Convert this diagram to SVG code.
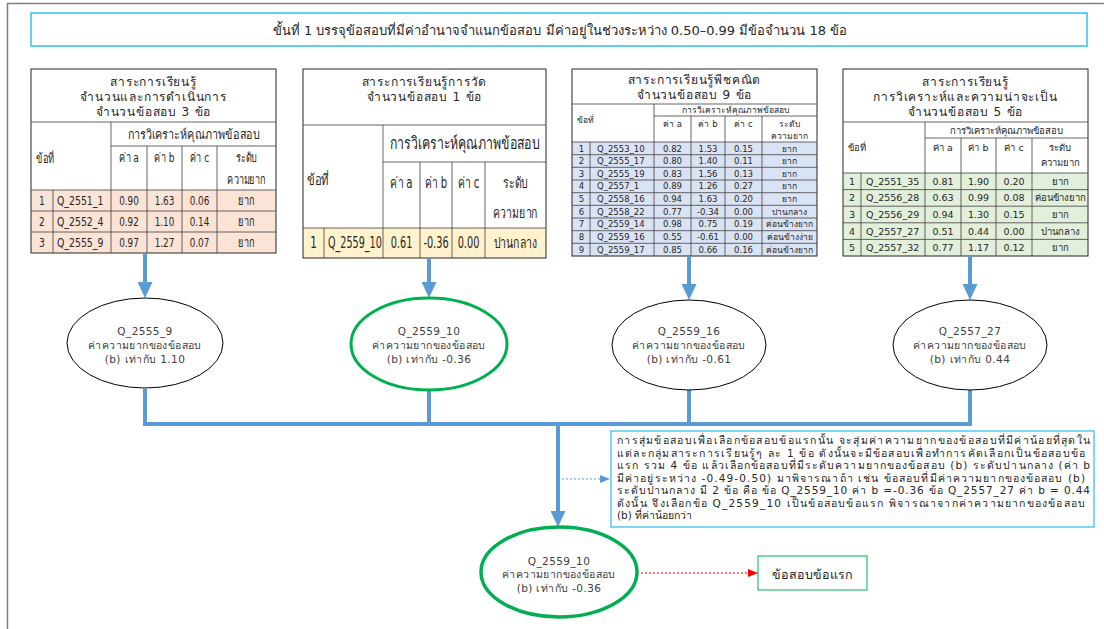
<svg xmlns="http://www.w3.org/2000/svg" width="1104" height="629" viewBox="0 0 1104 629">
<style>
text{font-family:'DejaVu Sans','Noto Sans','Liberation Sans',sans-serif;fill:#262626;dominant-baseline:central}
.frame{stroke:#808080;stroke-width:1.5;fill:none}
.tb{fill:#fff;stroke:#00b0f0;stroke-width:1.2}
.g{stroke:#404040;stroke-width:0.8;fill:none}
.ob{stroke:#262626;stroke-width:1;fill:none}
.c{text-anchor:middle}
.conn{stroke:#5b9bd5;stroke-width:4;fill:none}
.ell{fill:#fff;stroke:#000;stroke-width:1}
.ellg{fill:#fff;stroke:#00b050;stroke-width:3}
.et{font-size:10.5px;fill:#404040;text-anchor:middle;letter-spacing:0.4px}
.tt{font-size:12px;text-anchor:middle;letter-spacing:0.8px}
.s1{font-size:13px;font-family:'Liberation Sans','DejaVu Sans',sans-serif}
.s2{font-size:15px;font-family:'Liberation Sans','DejaVu Sans',sans-serif}
.s3{font-size:8.5px}
.s4{font-size:9.5px}
.note{font-size:10.5px}
</style>
<defs>
<marker id="bh" viewBox="0 0 16 15" refX="8" refY="7.5" markerWidth="16" markerHeight="15" markerUnits="userSpaceOnUse" orient="auto"><path d="M0,0 L16,7.5 L0,15 z" fill="#5b9bd5"/></marker>
<marker id="bs" viewBox="0 0 10 8" refX="10" refY="4" markerWidth="10" markerHeight="8" markerUnits="userSpaceOnUse" orient="auto"><path d="M0,0 L10,4 L0,8 z" fill="#5b9bd5"/></marker>
<marker id="rs" viewBox="0 0 10 8" refX="10" refY="4" markerWidth="10" markerHeight="8" markerUnits="userSpaceOnUse" orient="auto"><path d="M0,0 L10,4 L0,8 z" fill="#ff0000"/></marker>
</defs>
<rect width="1104" height="629" fill="#fff"/>
<path class="frame" d="M7.5,629 V3.5 H1104"/>

<g id="title">
<rect class="tb" x="31" y="13" width="1056" height="33"/>
<text class="c" x="560" y="30" font-size="13">ขั้นที่ 1 บรรจุข้อสอบที่มีค่าอำนาจจำแนกข้อสอบ มีค่าอยู่ในช่วงระหว่าง 0.50–0.99 มีข้อจำนวน 18 ข้อ</text>
</g>

<g id="table1">
<rect x="31" y="190" width="245" height="63" fill="#fbe3d6"/>
<rect class="ob" x="31" y="69" width="245" height="184"/>
<path class="g" d="M31,122H276M111,146H276M31,190H276M31,211H276M31,232H276M111,122V253M147,146V253M182,146V253M217,146V253M53,190V253"/>
<text class="tt" x="153.5" y="82">สาระการเรียนรู้</text>
<text class="tt" x="153.5" y="97">จำนวนและการดำเนินการ</text>
<text class="tt" x="153.5" y="112">จำนวนข้อสอบ 3 ข้อ</text>
<g class="s1">
<text class="c" x="193.5" y="134" textLength="132" lengthAdjust="spacingAndGlyphs">การวิเคราะห์คุณภาพข้อสอบ</text>
<text transform="translate(36,158) scale(0.72,1)">ข้อที่</text>
<text class="c" transform="translate(129,158) scale(0.7,1)">ค่า a</text>
<text class="c" transform="translate(164.5,158) scale(0.7,1)">ค่า b</text>
<text class="c" transform="translate(199.5,158) scale(0.7,1)">ค่า c</text>
<text class="c" transform="translate(246.5,158) scale(0.7,1)">ระดับ</text>
<text class="c" transform="translate(246.5,180) scale(0.7,1)">ความยาก</text>
<text class="c" transform="translate(42,200.5) scale(0.7,1)">1</text><text transform="translate(57,200.5) scale(0.72,1)">Q_2551_1</text><text class="c" transform="translate(129,200.5) scale(0.68,1)">0.90</text><text class="c" transform="translate(164.5,200.5) scale(0.68,1)">1.63</text><text class="c" transform="translate(199.5,200.5) scale(0.68,1)">0.06</text><text class="c" transform="translate(246.5,200.5) scale(0.7,1)">ยาก</text>
<text class="c" transform="translate(42,221.5) scale(0.7,1)">2</text><text transform="translate(57,221.5) scale(0.72,1)">Q_2552_4</text><text class="c" transform="translate(129,221.5) scale(0.68,1)">0.92</text><text class="c" transform="translate(164.5,221.5) scale(0.68,1)">1.10</text><text class="c" transform="translate(199.5,221.5) scale(0.68,1)">0.14</text><text class="c" transform="translate(246.5,221.5) scale(0.7,1)">ยาก</text>
<text class="c" transform="translate(42,242.5) scale(0.7,1)">3</text><text transform="translate(57,242.5) scale(0.72,1)">Q_2555_9</text><text class="c" transform="translate(129,242.5) scale(0.68,1)">0.97</text><text class="c" transform="translate(164.5,242.5) scale(0.68,1)">1.27</text><text class="c" transform="translate(199.5,242.5) scale(0.68,1)">0.07</text><text class="c" transform="translate(246.5,242.5) scale(0.7,1)">ยาก</text>
</g>
</g>

<g id="table2">
<rect x="303" y="228" width="243" height="30" fill="#fff2cc"/>
<rect class="ob" x="303" y="69" width="243" height="189"/>
<path class="g" d="M303,125H546M383,162H546M303,228H546M383,125V258M420,162V258M452,162V258M485,162V258M324,228V258"/>
<text class="tt" x="424.5" y="82">สาระการเรียนรู้การวัด</text>
<text class="tt" x="424.5" y="97">จำนวนข้อสอบ 1 ข้อ</text>
<g class="s2">
<text class="c" x="464.5" y="143" font-size="17" textLength="150" lengthAdjust="spacingAndGlyphs">การวิเคราะห์คุณภาพข้อสอบ</text>
<text transform="translate(307,180) scale(0.75,1)">ข้อที่</text>
<text class="c" transform="translate(401.5,183) scale(0.68,1)">ค่า a</text>
<text class="c" transform="translate(436,183) scale(0.68,1)">ค่า b</text>
<text class="c" transform="translate(468.5,183) scale(0.68,1)">ค่า c</text>
<text class="c" transform="translate(515.5,183) scale(0.7,1)">ระดับ</text>
<text class="c" transform="translate(515.5,213) scale(0.7,1)">ความยาก</text>
<text class="c" transform="translate(313.5,243) scale(0.7,1)">1</text><text transform="translate(328,243) scale(0.64,1)">Q_2559_10</text><text class="c" transform="translate(401.5,243) scale(0.65,1)">0.61</text><text class="c" transform="translate(436,243) scale(0.65,1)">-0.36</text><text class="c" transform="translate(468.5,243) scale(0.65,1)">0.00</text><text class="c" transform="translate(515.5,243) scale(0.7,1)">ปานกลาง</text>
</g>
</g>

<g id="table3">
<rect x="572" y="142" width="245" height="114" fill="#dae3f3"/>
<rect class="ob" x="572" y="69" width="245" height="187"/>
<path class="g" d="M572,104H817M654,116H817M572,142H817M572,154.7H817M572,167.3H817M572,180H817M572,192.7H817M572,205.3H817M572,218H817M572,230.7H817M572,243.3H817M654,104V256M691,116V256M725,116V256M762,116V256M590,142V256"/>
<text class="tt" x="694.5" y="80" font-size="13">สาระการเรียนรู้พีชคณิต</text>
<text class="tt" x="694.5" y="95" font-size="13">จำนวนข้อสอบ 9 ข้อ</text>
<text class="c s3" x="735.5" y="110">การวิเคราะห์คุณภาพข้อสอบ</text>
<text class="s3" x="577" y="120">ข้อที่</text>
<text class="c s3" x="672.5" y="124">ค่า a</text>
<text class="c s3" x="708" y="124">ค่า b</text>
<text class="c s3" x="743.5" y="124">ค่า c</text>
<text class="c s3" x="789.5" y="124">ระดับ</text>
<text class="c s3" x="789.5" y="136">ความยาก</text>
<g class="s3">
<text class="c" x="581.5" y="148.5">1</text><text x="597" y="148.5">Q_2553_10</text><text class="c" x="672.5" y="148.5">0.82</text><text class="c" x="708" y="148.5">1.53</text><text class="c" x="743.5" y="148.5">0.15</text><text class="c" x="789.5" y="148.5">ยาก</text>
<text class="c" x="581.5" y="161">2</text><text x="597" y="161">Q_2555_17</text><text class="c" x="672.5" y="161">0.80</text><text class="c" x="708" y="161">1.40</text><text class="c" x="743.5" y="161">0.11</text><text class="c" x="789.5" y="161">ยาก</text>
<text class="c" x="581.5" y="173.7">3</text><text x="597" y="173.7">Q_2555_19</text><text class="c" x="672.5" y="173.7">0.83</text><text class="c" x="708" y="173.7">1.56</text><text class="c" x="743.5" y="173.7">0.13</text><text class="c" x="789.5" y="173.7">ยาก</text>
<text class="c" x="581.5" y="186.3">4</text><text x="597" y="186.3">Q_2557_1</text><text class="c" x="672.5" y="186.3">0.89</text><text class="c" x="708" y="186.3">1.26</text><text class="c" x="743.5" y="186.3">0.27</text><text class="c" x="789.5" y="186.3">ยาก</text>
<text class="c" x="581.5" y="199">5</text><text x="597" y="199">Q_2558_16</text><text class="c" x="672.5" y="199">0.94</text><text class="c" x="708" y="199">1.63</text><text class="c" x="743.5" y="199">0.20</text><text class="c" x="789.5" y="199">ยาก</text>
<text class="c" x="581.5" y="211.7">6</text><text x="597" y="211.7">Q_2558_22</text><text class="c" x="672.5" y="211.7">0.77</text><text class="c" x="708" y="211.7">-0.34</text><text class="c" x="743.5" y="211.7">0.00</text><text class="c" x="789.5" y="211.7">ปานกลาง</text>
<text class="c" x="581.5" y="224.3">7</text><text x="597" y="224.3">Q_2559_14</text><text class="c" x="672.5" y="224.3">0.98</text><text class="c" x="708" y="224.3">0.75</text><text class="c" x="743.5" y="224.3">0.19</text><text class="c" x="789.5" y="224.3">ค่อนข้างยาก</text>
<text class="c" x="581.5" y="237">8</text><text x="597" y="237">Q_2559_16</text><text class="c" x="672.5" y="237">0.55</text><text class="c" x="708" y="237">-0.61</text><text class="c" x="743.5" y="237">0.00</text><text class="c" x="789.5" y="237">ค่อนข้างง่าย</text>
<text class="c" x="581.5" y="249.7">9</text><text x="597" y="249.7">Q_2559_17</text><text class="c" x="672.5" y="249.7">0.85</text><text class="c" x="708" y="249.7">0.66</text><text class="c" x="743.5" y="249.7">0.16</text><text class="c" x="789.5" y="249.7">ค่อนข้างยาก</text>
</g>
</g>

<g id="table4">
<rect x="843" y="173" width="245" height="83" fill="#e2efda"/>
<rect class="ob" x="843" y="69" width="245" height="187"/>
<path class="g" d="M843,122H1088M925,138H1088M843,173H1088M843,189.6H1088M843,206.2H1088M843,222.8H1088M843,239.4H1088M925,122V256M961,138V256M996,138V256M1032,138V256M861,173V256"/>
<text class="tt" x="965.5" y="82">สาระการเรียนรู้</text>
<text class="tt" x="965.5" y="97">การวิเคราะห์และความน่าจะเป็น</text>
<text class="tt" x="965.5" y="112">จำนวนข้อสอบ 5 ข้อ</text>
<text class="c s4" x="1006.5" y="130">การวิเคราะห์คุณภาพข้อสอบ</text>
<text class="s4" x="848" y="147">ข้อที่</text>
<text class="c s4" x="943" y="147">ค่า a</text>
<text class="c s4" x="978.5" y="147">ค่า b</text>
<text class="c s4" x="1014" y="147">ค่า c</text>
<text class="c s4" x="1060" y="147">ระดับ</text>
<text class="c s4" x="1060" y="162">ความยาก</text>
<g class="s4">
<text class="c" x="852" y="181.3">1</text><text x="866" y="181.3">Q_2551_35</text><text class="c" x="943" y="181.3">0.81</text><text class="c" x="978.5" y="181.3">1.90</text><text class="c" x="1014" y="181.3">0.20</text><text class="c" x="1060" y="181.3">ยาก</text>
<text class="c" x="852" y="197.9">2</text><text x="866" y="197.9">Q_2556_28</text><text class="c" x="943" y="197.9">0.63</text><text class="c" x="978.5" y="197.9">0.99</text><text class="c" x="1014" y="197.9">0.08</text><text class="c" x="1060" y="197.9">ค่อนข้างยาก</text>
<text class="c" x="852" y="214.5">3</text><text x="866" y="214.5">Q_2556_29</text><text class="c" x="943" y="214.5">0.94</text><text class="c" x="978.5" y="214.5">1.30</text><text class="c" x="1014" y="214.5">0.15</text><text class="c" x="1060" y="214.5">ยาก</text>
<text class="c" x="852" y="231.1">4</text><text x="866" y="231.1">Q_2557_27</text><text class="c" x="943" y="231.1">0.51</text><text class="c" x="978.5" y="231.1">0.44</text><text class="c" x="1014" y="231.1">0.00</text><text class="c" x="1060" y="231.1">ปานกลาง</text>
<text class="c" x="852" y="247.7">5</text><text x="866" y="247.7">Q_2557_32</text><text class="c" x="943" y="247.7">0.77</text><text class="c" x="978.5" y="247.7">1.17</text><text class="c" x="1014" y="247.7">0.12</text><text class="c" x="1060" y="247.7">ยาก</text>
</g>
</g>

<g id="connectors">
<path class="conn" d="M145,253V290" marker-end="url(#bh)"/>
<path class="conn" d="M429,258V290" marker-end="url(#bh)"/>
<path class="conn" d="M689,256V292" marker-end="url(#bh)"/>
<path class="conn" d="M970,256V292" marker-end="url(#bh)"/>
<path class="conn" d="M145,389V424H970V390M429,390V424M689,390V424"/>
<path class="conn" d="M558,424V519" marker-end="url(#bh)"/>
<path d="M562,479H610" stroke="#5b9bd5" stroke-width="1" stroke-dasharray="2,2" fill="none" marker-end="url(#bs)"/>
<path d="M637,573H758" stroke="#ff0000" stroke-width="1" stroke-dasharray="2,2" fill="none" marker-end="url(#rs)"/>
</g>

<g id="e1">
<ellipse class="ell" cx="145" cy="343" rx="78" ry="45"/>
<text class="et" x="145" y="331">Q_2555_9</text>
<text class="et" x="145" y="345">ค่าความยากของข้อสอบ</text>
<text class="et" x="145" y="359">(b) เท่ากับ 1.10</text>
</g>
<g id="e2">
<ellipse class="ellg" cx="429" cy="344" rx="78" ry="46"/>
<text class="et" x="429" y="331">Q_2559_10</text>
<text class="et" x="429" y="345">ค่าความยากของข้อสอบ</text>
<text class="et" x="429" y="359">(b) เท่ากับ -0.36</text>
</g>
<g id="e3">
<ellipse class="ell" cx="689" cy="345" rx="77" ry="45"/>
<text class="et" x="689" y="331">Q_2559_16</text>
<text class="et" x="689" y="345">ค่าความยากของข้อสอบ</text>
<text class="et" x="689" y="359">(b) เท่ากับ -0.61</text>
</g>
<g id="e4">
<ellipse class="ell" cx="970" cy="345" rx="77" ry="45"/>
<text class="et" x="970" y="331">Q_2557_27</text>
<text class="et" x="970" y="345">ค่าความยากของข้อสอบ</text>
<text class="et" x="970" y="359">(b) เท่ากับ 0.44</text>
</g>

<g id="note">
<rect x="611" y="431" width="483" height="96" fill="#fff" stroke="#00b0f0" stroke-width="1"/>
<g class="note">
<text x="617" y="440" textLength="473" lengthAdjust="spacing">การสุ่มข้อสอบเพื่อเลือกข้อสอบข้อแรกนั้น จะสุ่มค่าความยากของข้อสอบที่มีค่าน้อยที่สุดใน</text>
<text x="617" y="452.5" textLength="468" lengthAdjust="spacing">แต่ละกลุ่มสาระการเรียนรู้ๆ ละ 1 ข้อ ดังนั้นจะมีข้อสอบเพื่อทำการคัดเลือกเป็นข้อสอบข้อ</text>
<text x="617" y="465" textLength="473" lengthAdjust="spacing">แรก รวม 4 ข้อ แล้วเลือกข้อสอบที่มีระดับความยากของข้อสอบ (b) ระดับปานกลาง (ค่า b</text>
<text x="617" y="477.5" textLength="468" lengthAdjust="spacing">มีค่าอยู่ระหว่าง -0.49-0.50) มาพิจารณาถ้า เช่น ข้อสอบที่มีค่าความยากของข้อสอบ (b)</text>
<text x="617" y="490" textLength="473" lengthAdjust="spacing">ระดับปานกลาง มี 2 ข้อ คือ ข้อ Q_2559_10 ค่า b =-0.36 ข้อ Q_2557_27 ค่า b = 0.44</text>
<text x="617" y="502.5" textLength="468" lengthAdjust="spacing">ดังนั้น จึงเลือกข้อ  Q_2559_10 เป็นข้อสอบข้อแรก พิจารณาจากค่าความยากของข้อสอบ</text>
<text x="617" y="515">(b) ที่ค่าน้อยกว่า</text>
</g>
</g>

<g id="e5">
<ellipse fill="#fff" stroke="#00b050" stroke-width="3.5" cx="559" cy="572" rx="78" ry="45"/>
<text class="et" x="559" y="561">Q_2559_10</text>
<text class="et" x="559" y="574">ค่าความยากของข้อสอบ</text>
<text class="et" x="559" y="588">(b) เท่ากับ -0.36</text>
</g>

<g id="first">
<rect x="758" y="556" width="109" height="34" fill="#fff" stroke="#00b050" stroke-width="1"/>
<text class="c" x="812.5" y="574" font-size="12.5">ข้อสอบข้อแรก</text>
</g>
</svg>
